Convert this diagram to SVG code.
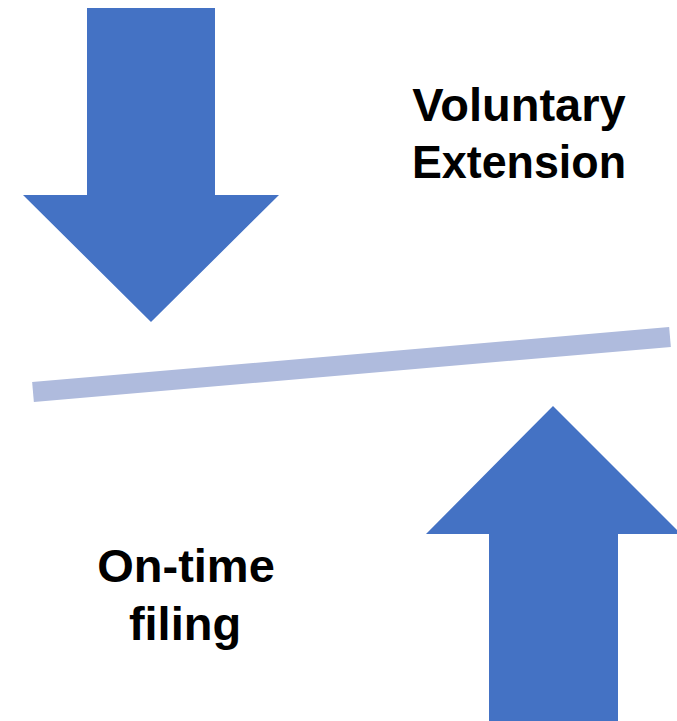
<svg xmlns="http://www.w3.org/2000/svg" width="677" height="721" viewBox="0 0 677 721">
<style>
.arrow{fill:#4472C4}
.lbl{font-family:"Liberation Sans",Arial,sans-serif;font-weight:bold;font-size:47px;fill:#000;text-anchor:middle}
</style>
<rect width="677" height="721" fill="#fff"/>
<g id="down-arrow">
<polygon class="arrow" points="87,8 215,8 215,195 279,195 151,322 23,195 87,195"/>
</g>
<g id="up-arrow">
<polygon class="arrow" points="553,406 681,534 618,534 618,721 489,721 489,534 426,534"/>
</g>
<g id="connectors">
<line x1="33" y1="392" x2="670" y2="337" stroke="#AFBBDD" stroke-width="20"/>
</g>
<g id="voluntary-extension">
<text class="lbl" x="519" y="121">Voluntary</text>
<text class="lbl" x="519" y="178" textLength="214" lengthAdjust="spacingAndGlyphs">Extension</text>
</g>
<g id="on-time-filing">
<text class="lbl" x="186" y="582">On-time</text>
<text class="lbl" x="185" y="640">filing</text>
</g>
</svg>
